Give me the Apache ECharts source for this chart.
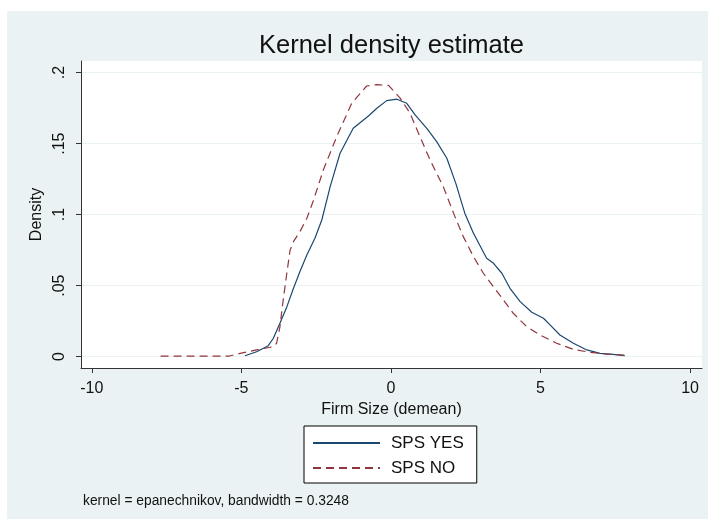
<!DOCTYPE html>
<html>
<head>
<meta charset="utf-8">
<script src="https://cdn.jsdelivr.net/npm/echarts@6/dist/echarts.min.js"></script>
<style>
html,body{margin:0;padding:0;background:#fff;}
#c{width:708px;height:519px;}
</style>
</head>
<body>
<div id="c"></div>
<script>
// Data
const yesX = [-4.88, -4.49, -4.10, -3.93, -3.71, -3.48, -3.26, -3.04, -2.81, -2.54, -2.31, -2.03, -1.70, -1.26, -0.75, -0.47, -0.14, 0.20, 0.53, 0.81, 1.20, 1.53, 1.87, 2.17, 2.47, 2.76, 3.20, 3.43, 3.71, 3.98, 4.32, 4.71, 5.10, 5.32, 5.65, 6.10, 6.55, 6.99, 7.43, 7.82];
const yesY = [0.0006, 0.0034, 0.0077, 0.0129, 0.0235, 0.035, 0.048, 0.060, 0.0716, 0.0833, 0.0962, 0.1197, 0.1432, 0.1608, 0.1695, 0.1749, 0.1803, 0.1813, 0.1784, 0.1702, 0.1608, 0.1514, 0.1397, 0.122, 0.101, 0.0869, 0.0693, 0.0657, 0.0587, 0.0481, 0.0387, 0.0312, 0.027, 0.0223, 0.0152, 0.0094, 0.0047, 0.0023, 0.0016, 0.0006];
const noX = [-7.7, -5.4, -5.04, -4.49, -3.93, -3.82, -3.71, -3.60, -3.48, -3.37, -3.26, -3.04, -2.81, -2.59, -2.26, -1.81, -1.31, -0.81, -0.47, -0.08, 0.31, 0.64, 0.97, 1.31, 1.75, 2.14, 2.42, 2.76, 3.09, 3.43, 3.76, 4.09, 4.54, 4.99, 5.54, 6.10, 6.66, 7.21, 7.82];
const noY = [0.0003, 0.0004, 0.0023, 0.0047, 0.007, 0.0094, 0.021, 0.040, 0.0587, 0.075, 0.081, 0.088, 0.0974, 0.110, 0.1314, 0.155, 0.1784, 0.1906, 0.1915, 0.1911, 0.182, 0.1714, 0.155, 0.1385, 0.1197, 0.0986, 0.0845, 0.0704, 0.0587, 0.0492, 0.0399, 0.0305, 0.0211, 0.0152, 0.0094, 0.0051, 0.003, 0.0018, 0.0011];
const xTicks = [-10, -5, 0, 5, 10];
const yTicks = [0, 0.05, 0.1, 0.15, 0.2];
const yTickLabels = ['0', '.05', '.1', '.15', '.2'];
const seriesNames = ['SPS YES', 'SPS NO'];
const titleText = 'Kernel density estimate';
const xName = 'Firm Size (demean)';
const yName = 'Density';
const noteText = 'kernel = epanechnikov, bandwidth = 0.3248';

const FONT = '"Liberation Sans", Arial, sans-serif';
const pairs = (xs, ys) => xs.map((x, i) => [x, ys[i]]);

const chart = echarts.init(document.getElementById('c'), null, {renderer: 'canvas'});
chart.setOption({
  backgroundColor: '#ffffff',
  animation: false,
  title: {
    text: titleText, left: 254, top: 28,
    textStyle: {fontFamily: FONT, fontSize: 25.5, fontWeight: 'normal', color: '#111'}
  },
  graphic: [
    {type: 'rect', z: -10, silent: true, shape: {x: 7, y: 11, width: 701, height: 508}, style: {fill: '#EAF2F3'}},
    {type: 'text', left: 83, top: 494, style: {text: noteText, font: '13.8px "Liberation Sans", Arial, sans-serif', fill: '#111'}}
  ],
  grid: {left: 81, top: 61, right: 6, bottom: 151, show: true, backgroundColor: '#ffffff', borderWidth: 0},
  legend: {
    orient: 'vertical', left: 304, top: 426,
    padding: [7, 13, 5, 8], itemGap: 5,
    itemWidth: 67, itemHeight: 14,
    backgroundColor: '#ffffff', borderColor: '#000', borderWidth: 1,
    itemStyle: {opacity: 0},
    textStyle: {fontFamily: FONT, fontSize: 17, color: '#111', lineHeight: 20, padding: [0, 0, 0, 6]},
    data: seriesNames
  },
  xAxis: {
    type: 'value', min: -10.36, max: 10.40,
    name: xName, nameLocation: 'middle', nameGap: 31,
    nameTextStyle: {fontFamily: FONT, fontSize: 16, color: '#111'},
    axisLine: {show: true, onZero: false, lineStyle: {color: '#333', width: 1}},
    axisTick: {show: true, length: 5, customValues: xTicks, lineStyle: {color: '#333'}},
    axisLabel: {customValues: xTicks, margin: 13, fontFamily: FONT, fontSize: 16, color: '#111'},
    splitLine: {show: false}
  },
  yAxis: {
    type: 'value', min: -0.00803, max: 0.2082,
    name: yName, nameLocation: 'middle', nameGap: 28, nameRotate: 90,
    nameTextStyle: {fontFamily: FONT, fontSize: 16, color: '#111'},
    axisLine: {show: true, onZero: false, lineStyle: {color: '#333', width: 1}},
    axisTick: {show: true, length: 5, customValues: yTicks, lineStyle: {color: '#333'}},
    axisLabel: {
      customValues: yTicks, rotate: 90, margin: 13, fontFamily: FONT, fontSize: 16, color: '#111',
      formatter: v => { const i = yTicks.findIndex(t => Math.abs(t - v) < 1e-9); return i >= 0 ? yTickLabels[i] : ''; }
    },
    splitLine: {show: true, lineStyle: {color: '#EAF2F3', width: 1}}
  },
  series: [
    {name: seriesNames[0], type: 'line', data: pairs(yesX, yesY), symbol: 'none', smooth: false,
     lineStyle: {color: '#1a476f', width: 1.2}, itemStyle: {color: '#1a476f'}},
    {name: seriesNames[1], type: 'line', data: pairs(noX, noY), symbol: 'none', smooth: false,
     lineStyle: {color: '#90353b', width: 1.2, type: [8, 5]}, itemStyle: {color: '#90353b'}}
  ]
});
</script>
</body>
</html>
